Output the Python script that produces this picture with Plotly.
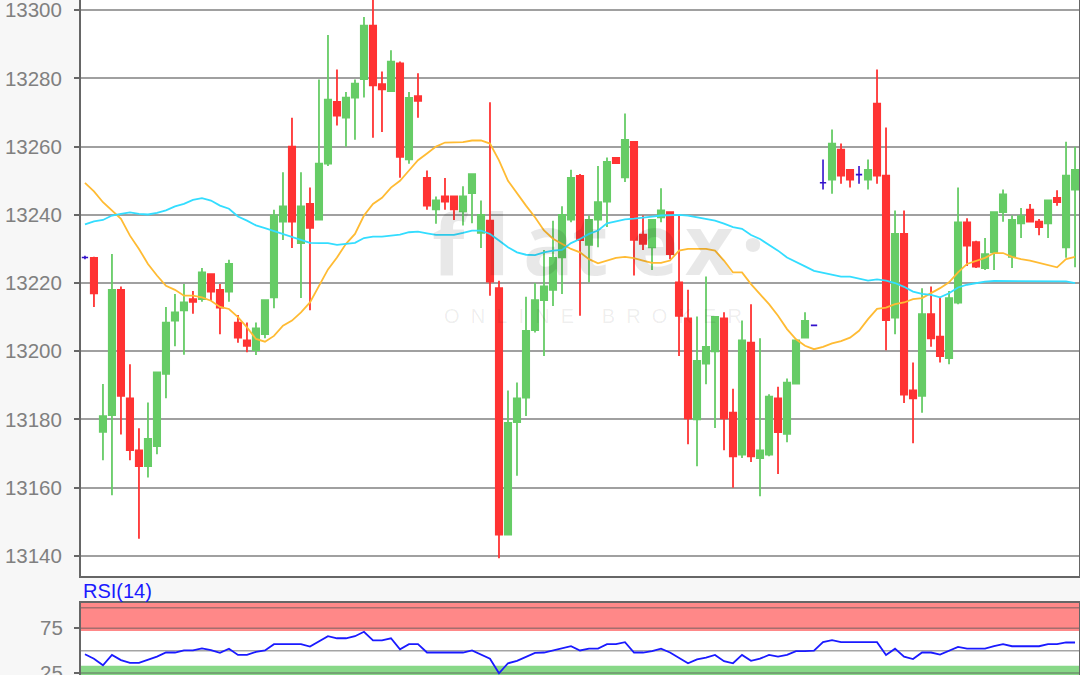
import plotly.graph_objects as go

# candle index 0..110
idx = list(range(111))

opens = [13227.5, 13227.4, 13176.4, 13181.3, 13218, 13186.2, 13170.9, 13166.3, 13172.2, 13193.4,
         13209, 13212, 13215.3, 13215.3, 13222.6, 13218, 13217.5, 13208.4, 13203.2, 13200.3,
         13205, 13215.8, 13238, 13260, 13231.7, 13243.2, 13238.6, 13255, 13273.1, 13268.5,
         13274.4, 13279.8, 13295.5, 13278.3, 13276.3, 13284.4, 13256.3, 13274.8, 13250.8, 13241.6,
         13245.4, 13245.4, 13241, 13246.4, 13234.7, 13238.3, 13218.5, 13146.2, 13179.2, 13186.4,
         13206.2, 13215, 13218, 13227.5, 13238.6, 13251.4, 13231.2, 13238.6, 13243.9, 13256.7,
         13251, 13261.4, 13234.2, 13230.5, 13239.3, 13240.8, 13220.2, 13209.6, 13180, 13196.4,
         13200, 13209.6, 13182, 13169.7, 13202.5, 13168.7, 13169.7, 13186.2, 13175.8, 13190.5,
         13204, 13207.6, 13249.4, 13250.3, 13259.1, 13253.2, 13251.8, 13250.3, 13272.6, 13251.5,
         13209.9, 13234.4, 13188.5, 13186.9, 13210.9, 13204.3, 13198, 13214.3, 13237.8, 13232,
         13224.4, 13229, 13240.8, 13227.7, 13237.5, 13241.5, 13238, 13237.5, 13245, 13230.5,
         13247.4]
closes = [13227.5, 13217, 13181, 13218, 13186.9, 13171, 13166.3, 13174.3, 13193.8, 13208.4,
          13211.4, 13214.3, 13214.5, 13223.1, 13217.5, 13212.8, 13225.6, 13204, 13201.6, 13206.7,
          13215, 13239.8, 13242.5, 13238, 13242.5, 13236.2, 13255, 13273.8, 13269.1, 13274.4,
          13278.5, 13295.5, 13278, 13276.8, 13284.9, 13257, 13274.3, 13273.4, 13242.7, 13244.2,
          13243.9, 13241.6, 13245.4, 13251.9, 13240, 13220.4, 13146.2, 13179, 13186.2, 13206,
          13215, 13219, 13227.4, 13240, 13250.8, 13232.6, 13238.5, 13243.7, 13255.5, 13255.2,
          13262, 13232.7, 13231.5, 13238.5, 13241.3, 13228.5, 13210.4, 13180.3, 13197.2, 13201.3,
          13210.1, 13180.3, 13169.2, 13203.2, 13169.2, 13170.9, 13186.7, 13176.3, 13190.8, 13203.2,
          13208.9, 13207.6, 13249.4, 13260.9, 13251.5, 13250.3, 13251.8, 13253.2, 13251.5, 13209.1,
          13234.4, 13187.3, 13186.2, 13210.9, 13203.8, 13198.6, 13215.6, 13237.8, 13231, 13224.8,
          13228.5, 13240.8, 13246, 13238.5, 13239.6, 13238, 13236.4, 13244.2, 13243.7, 13251.5,
          13253.2]
highs = [13228, 13227.7, 13190.4, 13228.5, 13219, 13196.2, 13177.4, 13185, 13193.8, 13213,
         13216.8, 13219.7, 13217.7, 13224.4, 13222.6, 13219.7, 13226.8, 13210.6, 13208.4, 13208.4,
         13215, 13241.5, 13252.5, 13268.5, 13252.5, 13248, 13279.7, 13292.7, 13282.6, 13276,
         13279.7, 13298, 13304, 13282, 13288.3, 13285, 13276, 13281.5, 13253, 13245.4,
         13250.8, 13245.4, 13248.4, 13251.9, 13244.2, 13273, 13220.7, 13188.5, 13190.8, 13216,
         13220, 13229.7, 13238.3, 13242.5, 13253.2, 13252, 13239.8, 13254.3, 13256.8, 13256.7,
         13269.7, 13261.4, 13239.8, 13238.5, 13247.8, 13240.9, 13239.8, 13218, 13210.2, 13221.9,
         13210.1, 13211.4, 13189, 13209, 13213.8, 13203.8, 13187.4, 13189.6, 13192, 13203.2,
         13211.4, 13207.6, 13256.2, 13265, 13260.9, 13253.2, 13254.3, 13256.2, 13282.6, 13265.6,
         13241.3, 13241.3, 13196.7, 13218.5, 13219, 13215.8, 13217.7, 13248, 13239, 13232.4,
         13233.2, 13240.8, 13247.4, 13239.8, 13242, 13243.2, 13238.8, 13244.2, 13247.2, 13261.4,
         13260]
lows = [13227, 13213, 13168, 13157.8, 13175.6, 13168, 13145, 13163, 13169.8, 13186.2,
        13201.5, 13199, 13211, 13214.5, 13214.7, 13205, 13214.5, 13202.5, 13199.7, 13198.9,
        13203.8, 13212.6, 13232.6, 13230.3, 13215.6, 13212, 13238.6, 13254.3, 13266.2, 13260,
        13262, 13274.4, 13262.6, 13264.3, 13276.3, 13250.9, 13255, 13268.5, 13241.5, 13237.4,
        13241.5, 13238.5, 13236.9, 13237.5, 13230.3, 13216.3, 13139.3, 13146.2, 13163.5, 13181,
        13205.5, 13198.6, 13213.3, 13216.8, 13237.8, 13210.4, 13220.2, 13230.5, 13236.4, 13255.2,
        13249.6, 13222.2, 13229.7, 13223.8, 13237.8, 13227, 13198.6, 13172.7, 13166.3, 13190.3,
        13177.5, 13171, 13160, 13168.7, 13167.5, 13157.5, 13169.2, 13164, 13173.3, 13190.5,
        13204, 13207.6, 13247.4, 13246.2, 13249.1, 13248, 13249.1, 13247.4, 13249.1, 13200.3,
        13205, 13184.8, 13173, 13182, 13201.3, 13196.7, 13196.2, 13213.8, 13225, 13224.4,
        13223.8, 13223.8, 13238, 13224.4, 13233.2, 13238, 13234, 13233.2, 13242.7, 13227.4,
        13224.6]

# the few candles drawn in blue (open == close, or nearly)
doji_idx = [0, 81, 82, 86]

ma_orange = [13249.4, 13246.9, 13243.7, 13241.3, 13238.8, 13233.9, 13230, 13225.6, 13222.2, 13219.2,
             13218, 13216.3, 13216.3, 13215.8, 13214.8, 13213, 13212.4, 13210, 13207, 13203.6,
             13202.8, 13204.5, 13207.5, 13209, 13211.4, 13214.3, 13219, 13224, 13227.5, 13231.5,
             13234.4, 13239.8, 13243.2, 13245, 13248, 13250, 13253, 13256, 13258, 13260,
             13261.2, 13261.2, 13261.3, 13261.8, 13261.8, 13260.9, 13256, 13250, 13246.2, 13242.7,
             13239.3, 13235.4, 13233, 13231.5, 13230, 13229, 13227, 13225.8, 13226.6, 13227.4,
             13227.7, 13227.3, 13226.6, 13225.9, 13225.9, 13226.6, 13229.5, 13230, 13230, 13230,
             13229.5, 13226.6, 13223.1, 13223.1, 13219.7, 13216.8, 13213.8, 13210.4, 13206.5, 13203.5,
             13201.6, 13200.6, 13201.3, 13202.3, 13203, 13204, 13206, 13209.4, 13212.4, 13212.8,
             13213.8, 13214.3, 13215.3, 13215.6, 13217, 13218.5, 13220.2, 13223.1, 13225.6, 13226.4,
             13227.4, 13228.8, 13228.8, 13227.7, 13227, 13226.6, 13226, 13225.4, 13224.6, 13227,
             13227.7]
ma_cyan = [13237.2, 13238.1, 13238.5, 13239.8, 13240.3, 13240.7, 13240.3, 13240.1, 13240.6, 13241.3,
           13242.5, 13243.2, 13244.4, 13244.9, 13244.2, 13242.7, 13241.8, 13239.5, 13238.3, 13236.9,
           13236.1, 13235.2, 13234.4, 13233.4, 13232.7, 13231.8, 13231.7, 13231.7, 13231.2, 13231.5,
           13231.8, 13233.2, 13233.6, 13233.6, 13233.9, 13234.2, 13234.9, 13235.1, 13234.6, 13234.1,
           13234.1, 13234.1, 13234.7, 13235.4, 13235.4, 13234.4, 13232.5, 13230.5, 13229, 13228.3,
           13228.2, 13229, 13229.5, 13229.7, 13231.7, 13232.9, 13234.4, 13235.4, 13237.5, 13238.1,
           13238.7, 13238.9, 13239.3, 13239.5, 13239.8, 13240, 13240, 13239.8, 13239.3, 13239,
           13238.3, 13237.4, 13236.4, 13235.9, 13234.1, 13232.9, 13231.3, 13229.5, 13227.5, 13226.3,
           13224.9, 13223.6, 13223.1, 13222.5, 13221.9, 13221.9, 13221.2, 13220.7, 13221.1, 13220.7,
           13220, 13218.9, 13217.5, 13216.8, 13216.5, 13215.8, 13217, 13218.7, 13219.5, 13220,
           13220.4, 13220.6, 13220.6, 13220.6, 13220.6, 13220.6, 13220.6, 13220.6, 13220.6, 13220.5,
           13220]

rsi = [46, 41, 33.6, 45.2, 39.4, 36.3, 36.3, 39.4, 43.3, 47.9,
       47.9, 50.2, 50.2, 52.6, 50.6, 47.5, 52.2, 45.2, 45.2, 48.7,
       50.2, 57.2, 57.2, 57.2, 57.2, 54.5, 60.3, 66.1, 63.8, 63.8,
       66.1, 71.1, 61.5, 61.5, 63.8, 51.4, 57.2, 57.2, 47.9, 47.9,
       47.9, 47.9, 47.9, 50.2, 45.6, 41, 24.7, 35.9, 38.6, 43.3,
       47.5, 47.9, 50.2, 52.6, 54.9, 50.2, 52.2, 52.2, 57.2, 57.2,
       59.5, 47.9, 47.9, 49.5, 52.2, 47.9, 42.1, 35.9, 40.2, 42.1,
       45.2, 38.2, 35.9, 45.2, 38.6, 41, 45.2, 43.3, 45.2, 49.5,
       49.5, 49.9, 59.5, 61.8, 59.5, 59.5, 59.5, 59.5, 59.5, 45.2,
       52.2, 43.3, 40.6, 47.9, 47.9, 45.6, 50.2, 54.1, 52.2, 52.2,
       52.2, 54.9, 57.2, 54.9, 54.9, 54.9, 54.9, 57.2, 57.2, 59.1,
       59.1]

price_ticks = [13140, 13160, 13180, 13200, 13220, 13240, 13260, 13280, 13300]
rsi_ticks = [25, 75]
rsi_levels = [25, 50, 75, 98]

# watermark letters and where each one sits across the plot (0..1)
logo_letters = ['f', 'l', 'a', 't', 'e', 'x', '·']
logo_x = [0.37, 0.417, 0.468, 0.51, 0.574, 0.63, 0.673]

GREEN = '#66cc66'
RED = '#ff3333'
BLUE = '#3311cc'
AXIS = '#666666'
LABEL = '#808080'
GRID = '#a0a0a0'
NB = '\u00a0'

normal = [i for i in idx if i not in doji_idx]


def pick(values, which):
    return [values[i] for i in which]


fig = go.Figure()

fig.add_trace(go.Candlestick(
    x=normal, open=pick(opens, normal), high=pick(highs, normal),
    low=pick(lows, normal), close=pick(closes, normal),
    increasing=dict(line=dict(color=GREEN, width=1.8), fillcolor=GREEN),
    decreasing=dict(line=dict(color=RED, width=1.8), fillcolor=RED),
    whiskerwidth=0, showlegend=False, xaxis='x', yaxis='y'))
fig.add_trace(go.Candlestick(
    x=doji_idx, open=pick(opens, doji_idx), high=pick(highs, doji_idx),
    low=pick(lows, doji_idx), close=pick(closes, doji_idx),
    increasing=dict(line=dict(color=BLUE, width=1.6), fillcolor=BLUE),
    decreasing=dict(line=dict(color=BLUE, width=1.6), fillcolor=BLUE),
    whiskerwidth=0, showlegend=False, xaxis='x', yaxis='y'))
fig.add_trace(go.Scatter(x=idx, y=ma_orange, mode='lines', showlegend=False,
                         line=dict(color='#ffbb33', width=1.8)))
fig.add_trace(go.Scatter(x=idx, y=ma_cyan, mode='lines', showlegend=False,
                         line=dict(color='#33ddff', width=1.8)))
fig.add_trace(go.Scatter(x=idx, y=rsi, mode='lines', showlegend=False, xaxis='x2', yaxis='y2',
                         line=dict(color='#1a1aff', width=1.8)))

# RSI overbought / oversold bands, below the line
fig.add_shape(type='rect', xref='x2 domain', yref='y2', x0=0, x1=1, y0=72, y1=103.2,
              fillcolor='#ff8888', line_width=0, layer='below')
fig.add_shape(type='rect', xref='x2 domain', yref='y2', x0=0, x1=1, y0=22, y1=33,
              fillcolor='#88d888', line_width=0, layer='below')
for level in rsi_levels:
    fig.add_shape(type='line', xref='x2 domain', yref='y2', x0=0, x1=1, y0=level, y1=level,
                  line=dict(color='rgba(90,90,90,0.55)', width=1.5), layer='below')

# faint logo behind the chart
for letter, pos in zip(logo_letters, logo_x):
    fig.add_annotation(text='<b>' + letter + '</b>', xref='paper', yref='paper', x=pos, y=0.553,
                       xanchor='center', yanchor='bottom', showarrow=False,
                       font=dict(family='Open Sans', size=84, color='rgba(0,0,0,0.09)'))
broker = (NB * 2).join('ONLINE') + NB * 5 + (NB * 2).join('BROKER')
fig.add_annotation(text=broker, xref='paper', yref='paper', x=0.513, y=0.532,
                   xanchor='center', yanchor='middle', showarrow=False,
                   font=dict(family='Liberation Sans', size=20, color='rgba(0,0,0,0.07)'))
fig.add_annotation(text='RSI(14)', xref='paper', yref='paper', x=0, y=0.105,
                   xanchor='left', yanchor='bottom', showarrow=False,
                   font=dict(family='Liberation Sans', size=20, color='#1a1aff'))

fig.update_layout(
    width=1080, height=675,
    margin=dict(l=81, r=1, t=0, b=0, autoexpand=False),
    paper_bgcolor='#f7f7f7', plot_bgcolor='white',
    boxmode='overlay', boxgap=0.3, boxgroupgap=0,
    font=dict(family='Liberation Sans', size=20.5, color=LABEL),
    xaxis=dict(domain=[0, 1], range=[-0.44, 110.44], showticklabels=False, showgrid=False,
               zeroline=False, ticks='', rangeslider=dict(visible=False),
               showline=True, linecolor=AXIS, linewidth=2, mirror=True),
    yaxis=dict(domain=[0.1467, 1], range=[13134.1, 13303], tickvals=price_ticks,
               tickformat='d', showgrid=True, gridcolor=GRID, gridwidth=1.5, zeroline=False,
               ticks='outside', ticklen=5, tickcolor=AXIS, tickwidth=1.5, ticklabelstandoff=8,
               ticklabeloverflow='allow',
               showline=True, linecolor=AXIS, linewidth=2, mirror=True),
    xaxis2=dict(domain=[0, 1], anchor='y2', range=[-0.44, 110.44], showticklabels=False,
                showgrid=False, zeroline=False, ticks='',
                showline=True, linecolor=AXIS, linewidth=2, mirror=True),
    yaxis2=dict(domain=[0, 0.1067], anchor='x2', range=[22.8, 103.2], tickvals=rsi_ticks,
                showgrid=False, zeroline=False, ticks='outside', ticklen=5, tickcolor=AXIS,
                tickwidth=1.5, ticklabelstandoff=7, ticklabeloverflow='allow',
                showline=True, linecolor=AXIS, linewidth=2, mirror=True),
)

# page margin would shift the whole chart by 8px
fig.write_html("out.html", config=dict(displayModeBar=False),
               post_script="document.body.style.margin='0';document.body.style.overflow='hidden';")
